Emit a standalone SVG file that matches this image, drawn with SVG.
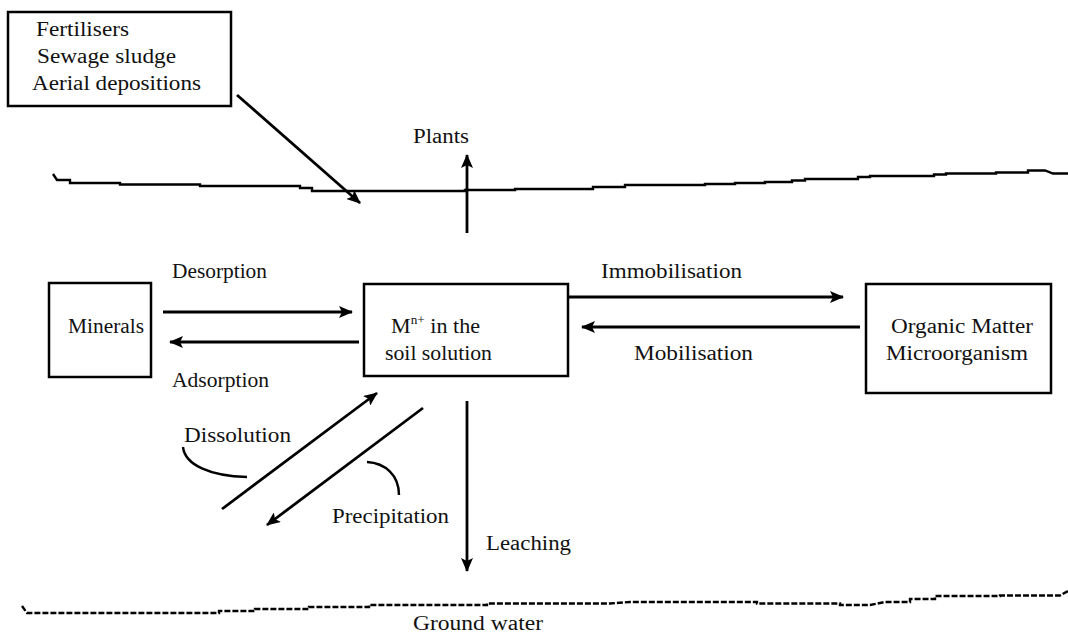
<svg xmlns="http://www.w3.org/2000/svg" width="1068" height="632" viewBox="0 0 1068 632">
  <style>
    .box { fill: #fff; stroke: #000; stroke-width: 2.5; }
    .lbl { font-family: "Liberation Serif", "Times New Roman", serif; font-size: 20px; fill: #111; }
    .arr { fill: none; stroke: #000; stroke-width: 2.8; marker-end: url(#head); }
    .ln { fill: none; stroke: #000; stroke-width: 2.4; }
  </style>
  <defs>
    <marker id="head" markerUnits="userSpaceOnUse" markerWidth="14" markerHeight="12" refX="13" refY="6" orient="auto">
      <path d="M0,0 L14,6 L0,12 L3,6 z" fill="#000"/>
    </marker>
  </defs>
  <rect width="1068" height="632" fill="#fff"/>

  <!-- soil surface -->
  <path class="ln" d="M53,174 L57,180 L70,180 L70,183 L120,183 L120,184.5 L200,184.5 L200,186 L300,186 L300,188 L312,188 L312,191 L465,191 L465,190 L515,190 L515,189 L593,189 L593,187 L625,187 L625,185 L705,185 L705,184 L735,184 L735,183 L765,183 L765,182 L792,182 L792,180.5 L805,180.5 L805,179 L858,179 L858,177 L870,177 L870,176 L934,176 L934,174.5 L946,174.5 L946,173.5 L996,173.5 L996,172.5 L1028,172.5 L1028,170.5 L1045,170.5 L1053,173.5 L1068,173.5"/>

  <!-- ground water table -->
  <path class="ln" stroke-dasharray="6 2" d="M22,606 L27,613 L219,613 L219,611 L255,611 L255,609 L309,609 L309,607 L369,607 L369,605 L487,605 L487,603.5 L610,603.5 L630,602 L757,602 L757,603.5 L840,603.5 L840,605 L870,605 L885,602 L910,602 L910,599 L935,599 L935,596 L1000,596 L1000,595.5 L1060,595.5 L1068,591"/>

  <g id="inputs">
    <rect class="box" x="8" y="12" width="223" height="94"/>
    <text class="lbl" x="36" y="36" textLength="93" lengthAdjust="spacingAndGlyphs">Fertilisers</text>
    <text class="lbl" x="37" y="63" textLength="139" lengthAdjust="spacingAndGlyphs">Sewage sludge</text>
    <text class="lbl" x="32" y="90" textLength="169" lengthAdjust="spacingAndGlyphs">Aerial depositions</text>
  </g>

  <g id="minerals">
    <rect class="box" x="49" y="283" width="102" height="94"/>
    <text class="lbl" x="68" y="333" textLength="76" lengthAdjust="spacingAndGlyphs">Minerals</text>
  </g>

  <g id="solution">
    <rect class="box" x="364" y="284" width="204" height="92"/>
    <text class="lbl" x="391" y="333" textLength="89" lengthAdjust="spacingAndGlyphs">M<tspan font-size="12" dy="-9">n+</tspan><tspan dy="9"> in the</tspan></text>
    <text class="lbl" x="385" y="360" textLength="107" lengthAdjust="spacingAndGlyphs">soil solution</text>
  </g>

  <g id="organic">
    <rect class="box" x="866" y="284" width="185" height="109"/>
    <text class="lbl" x="891" y="333" textLength="142" lengthAdjust="spacingAndGlyphs">Organic Matter</text>
    <text class="lbl" x="886" y="360" textLength="142" lengthAdjust="spacingAndGlyphs">Microorganism</text>
  </g>

  <g id="connectors">
    <line class="arr" x1="237" y1="95" x2="360" y2="203"/>
    <line class="arr" x1="467" y1="233" x2="467" y2="155"/>
    <line class="arr" x1="163" y1="312" x2="352" y2="312"/>
    <line class="arr" x1="359" y1="342" x2="170" y2="342"/>
    <line class="arr" x1="568" y1="297" x2="843" y2="297"/>
    <line class="arr" x1="860" y1="327" x2="582" y2="327"/>
    <line class="arr" x1="222" y1="509" x2="377" y2="393"/>
    <line class="arr" x1="423" y1="408" x2="267" y2="525"/>
    <line class="arr" x1="467" y1="401" x2="467" y2="571"/>
    <path class="ln" d="M183,447 C185,465 210,476 247,477"/>
    <path class="ln" d="M367,462 C385,463 399,475 399,495"/>
  </g>

  <g id="labels">
    <text class="lbl" x="413" y="143" textLength="56" lengthAdjust="spacingAndGlyphs">Plants</text>
    <text class="lbl" x="172" y="278" textLength="95" lengthAdjust="spacingAndGlyphs">Desorption</text>
    <text class="lbl" x="172" y="387" textLength="97" lengthAdjust="spacingAndGlyphs">Adsorption</text>
    <text class="lbl" x="601" y="278" textLength="141" lengthAdjust="spacingAndGlyphs">Immobilisation</text>
    <text class="lbl" x="634" y="360" textLength="119" lengthAdjust="spacingAndGlyphs">Mobilisation</text>
    <text class="lbl" x="184" y="442" textLength="107" lengthAdjust="spacingAndGlyphs">Dissolution</text>
    <text class="lbl" x="332" y="523" textLength="117" lengthAdjust="spacingAndGlyphs">Precipitation</text>
    <text class="lbl" x="486" y="550" textLength="85" lengthAdjust="spacingAndGlyphs">Leaching</text>
    <text class="lbl" x="413" y="630" textLength="130" lengthAdjust="spacingAndGlyphs">Ground water</text>
  </g>
</svg>
